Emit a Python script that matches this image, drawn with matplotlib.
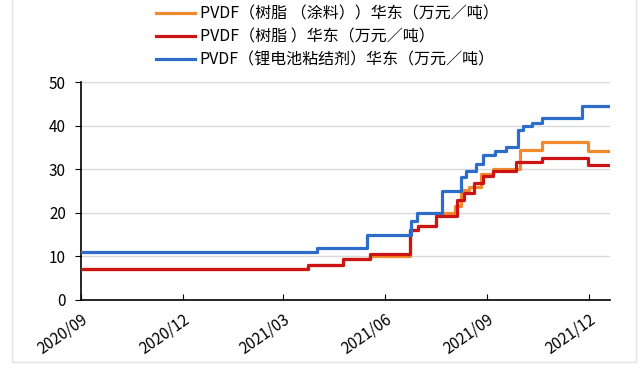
import matplotlib
matplotlib.use('Agg')
import matplotlib.pyplot as plt
import matplotlib.dates as mdates
import pandas as pd
from matplotlib.patches import Rectangle

plt.rcParams['font.family'] = ['Noto Sans CJK SC', 'DejaVu Sans']

# change points (date, value); series end on end_date
end_date = '2021-12-20'

orange_dates = ['2020-09-01', '2021-03-24', '2021-04-24', '2021-05-18', '2021-06-23',
                '2021-07-01', '2021-07-17', '2021-08-03', '2021-08-08', '2021-08-15',
                '2021-08-26', '2021-09-06', '2021-09-30', '2021-10-20', '2021-11-30']
orange_vals = [7, 8, 9.3, 10, 16, 17, 20, 21.5, 25.2, 26, 29, 30, 34.4, 36.2, 34.2]

red_dates = ['2020-09-01', '2021-03-24', '2021-04-24', '2021-05-18', '2021-06-23',
             '2021-07-01', '2021-07-17', '2021-08-05', '2021-08-11', '2021-08-20',
             '2021-08-28', '2021-09-06', '2021-09-27', '2021-10-20', '2021-11-30']
red_vals = [7, 8, 9.3, 10.5, 16, 17, 19.3, 23, 24.5, 26.8, 28.5, 29.6, 31.7, 32.5, 31]

blue_dates = ['2020-09-01', '2021-04-01', '2021-05-16', '2021-06-24', '2021-06-30',
              '2021-07-22', '2021-08-08', '2021-08-13', '2021-08-22', '2021-08-28',
              '2021-09-08', '2021-09-18', '2021-09-28', '2021-10-03', '2021-10-11',
              '2021-10-20', '2021-11-25']
blue_vals = [11, 12, 15, 18, 20, 25, 28.3, 29.5, 31.3, 33.3, 34.2, 35.2, 39, 40, 40.7,
             41.8, 44.6]

labels = ['PVDF（树脂 （涂料））华东（万元／吨）',
          'PVDF（树脂 ）华东（万元／吨）',
          'PVDF（锂电池粘结剂）华东（万元／吨）']
colors = ['#F08A2C', '#CC1414', '#2D6CC8']
tick_dates = ['2020-09-01', '2020-12-01', '2021-03-01', '2021-06-01', '2021-09-01', '2021-12-01']


def series(dates, vals):
    d = pd.to_datetime(dates + [end_date])
    return d, vals + [vals[-1]]


fig = plt.figure(figsize=(6.4, 3.68), dpi=100)
ax = fig.add_axes([0.127, 0.185, 0.826, 0.592])

lines = []
for (dates, vals), c, lab in zip([(orange_dates, orange_vals), (red_dates, red_vals),
                                  (blue_dates, blue_vals)], colors, labels):
    x, y = series(dates, vals)
    ln, = ax.plot(x, y, drawstyle='steps-post', color=c, lw=2.3, label=lab, zorder=3)
    lines.append(ln)

ax.set_ylim(0, 50)
ax.set_yticks([0, 10, 20, 30, 40, 50])
ax.set_xlim(pd.Timestamp('2020-09-01'), pd.Timestamp(end_date))
ax.set_xticks(pd.to_datetime(tick_dates))
ax.xaxis.set_major_formatter(mdates.DateFormatter('%Y/%m'))
ax.grid(axis='y', color='#D9D9D9', lw=1)
ax.set_axisbelow(True)
for s in ['top', 'right']:
    ax.spines[s].set_visible(False)
for s in ['left', 'bottom']:
    ax.spines[s].set_linewidth(1.2)
ax.tick_params(axis='y', direction='out', length=4, labelsize=11, pad=7)
ax.tick_params(axis='x', direction='in', length=4, labelsize=11, pad=8)
for t in ax.get_xticklabels():
    t.set_rotation(35)
    t.set_ha('right')
    t.set_rotation_mode('anchor')

fig.legend(handles=lines, loc='upper left', bbox_to_anchor=(0.222, 1.025), frameon=False,
           fontsize=11.5, handlelength=2.4, handletextpad=0.3, labelspacing=0.38)

fig.add_artist(Rectangle((0.018, 0.015), 0.975, 1.2, transform=fig.transFigure,
                         fill=False, edgecolor='#E4E4E4', lw=1))

plt.savefig('out.png', dpi=100)
